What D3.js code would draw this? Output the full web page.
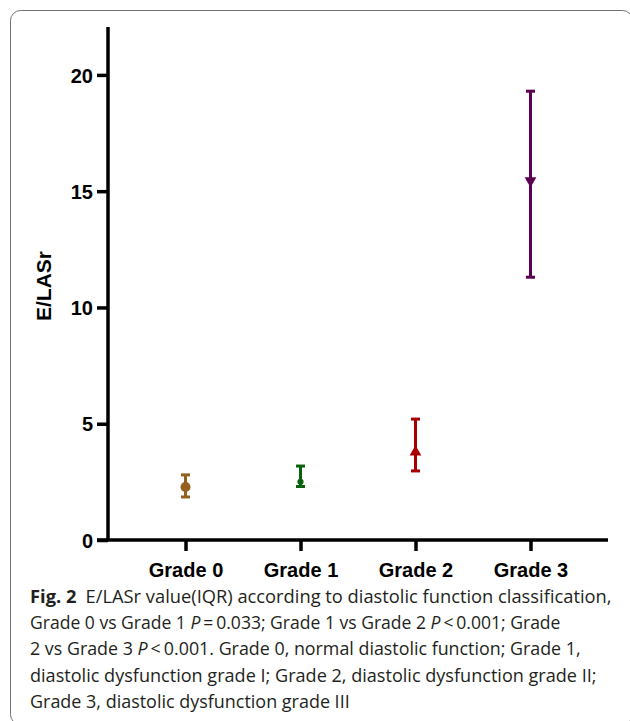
<!DOCTYPE html>
<html>
<head>
<meta charset="utf-8">
<script src="https://cdn.jsdelivr.net/npm/d3@7"></script>
<style>
  body { margin: 0; background: #fff; }
  svg { display: block; }
</style>
</head>
<body>
<div id="chart"></div>
<script>
// data
var grades = ["Grade 0", "Grade 1", "Grade 2", "Grade 3"];
var medians = [2.28, 2.5, 3.78, 15.45];
var q1 = [1.85, 2.3, 2.97, 11.3];
var q3 = [2.8, 3.18, 5.2, 19.3];
var colors = ["#94601e", "#0a620a", "#a80000", "#5e0050"];
var shapes = ["circle", "smallcircle", "up", "down"];
var yTicks = [0, 5, 10, 15, 20];
var captionLines = [
  ["E/LASr value(IQR) according to diastolic function classification,"],
  ["Grade 0 vs Grade 1 ", "P", "\u2009=\u20090.033; Grade 1 vs Grade 2 ", "P", "\u2009<\u20090.001; Grade"],
  ["2 vs Grade 3 ", "P", "\u2009<\u20090.001. Grade 0, normal diastolic function; Grade 1,"],
  ["diastolic dysfunction grade I; Grade 2, diastolic dysfunction grade II;"],
  ["Grade 3, diastolic dysfunction grade III"]
];

var W = 630, H = 721;
var svg = d3.select("#chart").append("svg").attr("width", W).attr("height", H);

// rounded frame, clipped by the page on the right/bottom
svg.append("rect")
  .attr("x", 10.5).attr("y", 10.5)
  .attr("width", 622).attr("height", 714)
  .attr("rx", 10).attr("ry", 10)
  .attr("fill", "none").attr("stroke", "#707070").attr("stroke-width", 1);

var x = d3.scalePoint().domain(grades).range([108, 608]).padding(0.674);
var y = d3.scaleLinear().domain([0, 22.06]).range([540, 27]);

var g = svg.append("g");

var yAxis = g.append("g").attr("transform", "translate(108,0)")
  .call(d3.axisLeft(y).tickValues(yTicks).tickSize(11).tickPadding(4));
var xAxis = g.append("g").attr("transform", "translate(0,540)")
  .call(d3.axisBottom(x).tickSize(11).tickPadding(5));

[yAxis, xAxis].forEach(function (a) {
  a.select(".domain").attr("stroke", "#000").attr("stroke-width", 3.5);
  a.selectAll(".tick line").attr("stroke", "#000").attr("stroke-width", 3.5);
  a.selectAll("text")
    .attr("fill", "#000")
    .style("font-family", "'Liberation Sans', Arial, sans-serif")
    .style("font-weight", "bold")
    .style("font-size", "20px");
});
// plain axis lines without the outer ticks
yAxis.select(".domain").attr("d", "M0," + y.range()[1] + "V" + y.range()[0]);
xAxis.select(".domain").attr("d", "M97,0H" + x.range()[1]);
xAxis.selectAll("text").attr("dy", "1.05em");
yAxis.selectAll("text").attr("dy", "0.36em");

g.append("text")
  .attr("transform", "translate(51,286) rotate(-90)")
  .attr("text-anchor", "middle")
  .style("font-family", "'Liberation Sans', Arial, sans-serif")
  .style("font-weight", "bold")
  .style("font-size", "21px")
  .text("E/LASr");

// error bars
var bars = g.selectAll(".bar").data(grades).enter().append("g").attr("class", "bar");
bars.append("line")
  .attr("x1", function (d) { return x(d); }).attr("x2", function (d) { return x(d); })
  .attr("y1", function (d, i) { return y(q1[i]); }).attr("y2", function (d, i) { return y(q3[i]); })
  .attr("stroke", function (d, i) { return colors[i]; }).attr("stroke-width", 3);
[q1, q3].forEach(function (arr) {
  bars.append("line")
    .attr("x1", function (d) { return x(d) - 4.5; }).attr("x2", function (d) { return x(d) + 4.5; })
    .attr("y1", function (d, i) { return y(arr[i]); }).attr("y2", function (d, i) { return y(arr[i]); })
    .attr("stroke", function (d, i) { return colors[i]; }).attr("stroke-width", 3);
});

var sym = {
  circle: d3.symbol().type(d3.symbolCircle).size(80),
  smallcircle: d3.symbol().type(d3.symbolCircle).size(30),
  up: d3.symbol().type(d3.symbolTriangle).size(60),
  down: d3.symbol().type(d3.symbolTriangle).size(60)
};
bars.append("path")
  .attr("d", function (d, i) { return sym[shapes[i]](); })
  .attr("transform", function (d, i) {
    return "translate(" + x(d) + "," + y(medians[i]) + ")" + (shapes[i] === "down" ? " rotate(180)" : "");
  })
  .attr("fill", function (d, i) { return colors[i]; });

// caption, each line squeezed horizontally to the width it has in the figure
var cap = svg.append("g")
  .style("font-family", "'Open Sans', 'Noto Sans', sans-serif")
  .style("font-size", "18.5px")
  .attr("fill", "#231f20");
var lineEnds = [612, 561, 581, 597, 350];
captionLines.forEach(function (parts, li) {
  var base = 603 + li * 26.2;
  var t = cap.append("text").attr("x", 0).attr("y", 0);
  if (li === 0) {
    t.append("tspan").style("font-weight", "bold").text("Fig.\u00a02");
    t.append("tspan").text("\u2002");
  }
  parts.forEach(function (p) {
    var s = t.append("tspan").text(p);
    if (p === "P") s.style("font-style", "italic");
  });
  var w = t.node().getComputedTextLength();
  var sx = (lineEnds[li] - 30) / w;
  t.attr("transform", "translate(30," + base + ") scale(" + sx + ",1)");
});
</script>
</body>
</html>
